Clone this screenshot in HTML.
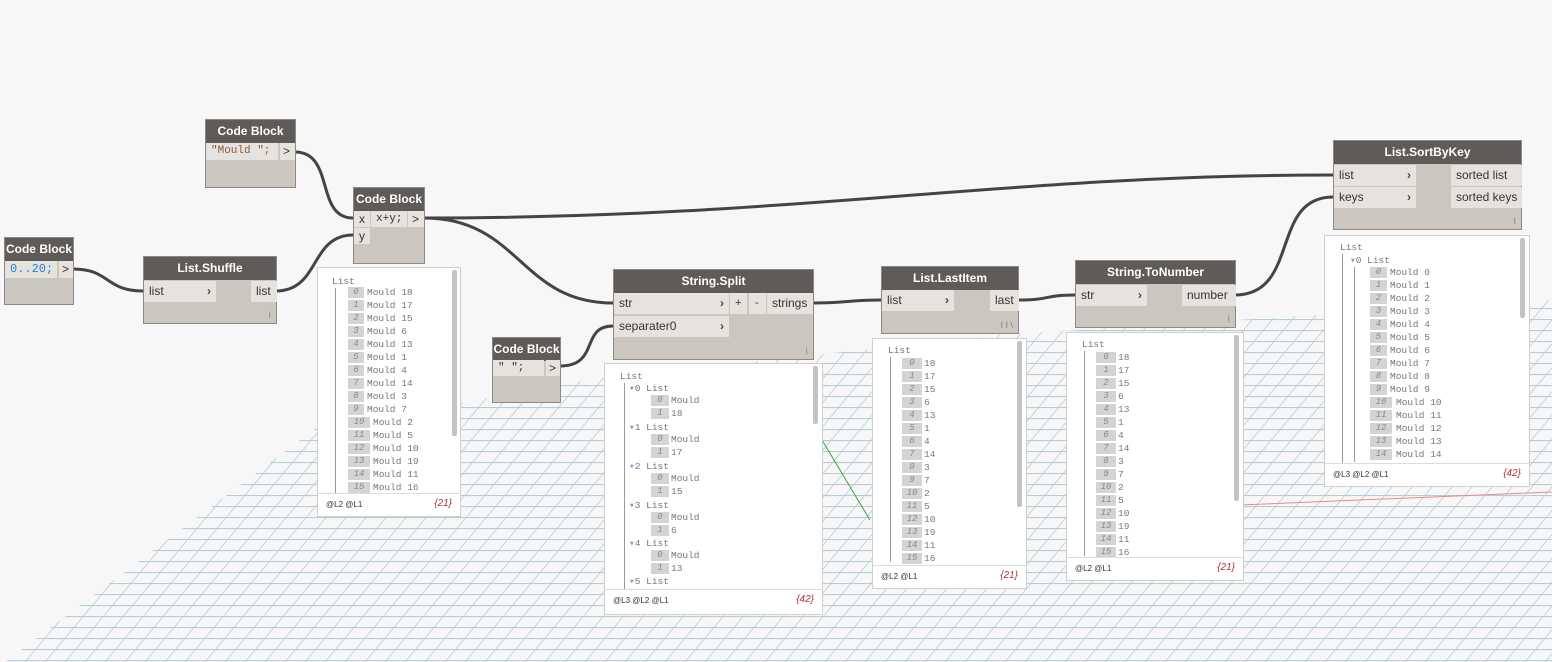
<!DOCTYPE html>
<html><head><meta charset="utf-8"><style>
body{margin:0;width:1552px;height:662px;overflow:hidden;background:#f7f7f7;position:relative;font-family:"Liberation Sans",sans-serif}
.n{position:absolute;background:#cbc7c0;border:1px solid #8c8882;box-sizing:border-box}
.h{background:#5e5b58;color:#fff;font-weight:bold;font-size:12px;text-align:center;height:23px;line-height:23px}
.p{position:absolute;background:#e6e3de;font-size:12px;color:#333;line-height:21px;padding-left:5px;box-sizing:border-box}
.ar{position:absolute;font-size:12px;font-weight:bold;color:#444}
.w{position:absolute;background:#fff;border:1px solid #cfcfcf;box-sizing:border-box;overflow:hidden}
.w .ft{position:absolute;left:0;right:0;bottom:0;height:22px;border-top:1px solid #ddd;font-size:8px;color:#333}
.w .ft b{position:absolute;left:8px;top:6px;font-weight:normal}
.w .ft i{position:absolute;right:8px;top:4px;color:#a33;font-size:10px}
.sb{position:absolute;width:5px;background:#c4c4c4;border-radius:2px}
.t{position:absolute;font-family:"Liberation Mono",monospace;font-size:9.5px;color:#777;white-space:pre;line-height:11px}
.ix{position:absolute;background:#d4d4d4;color:#888;font-family:"Liberation Mono",monospace;font-size:9px;font-style:italic;text-align:center;box-sizing:border-box;height:11px;line-height:11px}
.vl{position:absolute;width:1px;background:#999}
.res{position:absolute;font-size:9px;color:#888}
</style></head><body>
<svg width="1552" height="662" style="position:absolute;left:0;top:0">
<defs><pattern id="g" width="20" height="11" patternUnits="userSpaceOnUse" patternTransform="skewX(-40)"><path d="M0 0.5H20M0.5 0V11" stroke="#b3cad9" stroke-width="1" fill="none"/></pattern></defs>
<polygon points="5,662 316,428 600,378 1000,335 1552,300 1552,662" fill="url(#g)"/>
<path d="M1240 505 L1552 492" stroke="#e88" stroke-width="1"/>
<path d="M822 440 L870 520" stroke="#3a3" stroke-width="1"/>
<g stroke="#444" stroke-width="3" fill="none">
<path d="M73 269 C110 269,105 291,143 291"/>
<path d="M276 291 C320 291,310 235,353 235"/>
<path d="M295 152 C335 152,315 218,353 218"/>
<path d="M424 218 C800 218,1000 175,1333 175"/>
<path d="M424 218 C520 218,520 303,613 303"/>
<path d="M560 366 C600 366,580 326,613 326"/>
<path d="M813 303 C850 303,845 300,881 300"/>
<path d="M1018 300 C1050 300,1045 295,1075 295"/>
<path d="M1235 295 C1300 295,1270 197,1333 197"/>
</g></svg>

<div class="n" style="left:4px;top:237px;width:70px;height:68px"><div class="h">Code Block</div>
<div class="p" style="left:0;top:23px;width:52px;height:17px;line-height:17px;font-family:'Liberation Mono',monospace;color:#2a7fd4">0..20;</div>
<div class="p" style="left:54px;top:23px;width:14px;height:17px;line-height:17px;padding-left:3px">&gt;</div></div>
<div class="n" style="left:143px;top:256px;width:134px;height:68px"><div class="h">List.Shuffle</div>
<div class="p" style="left:0;top:24px;width:72px;height:21px">list</div><div class="ar" style="left:63px;top:27px">›</div>
<div class="p" style="left:107px;top:24px;width:26px;height:21px">list</div><div class="res" style="right:5px;bottom:3px">I</div></div>
<div class="n" style="left:205px;top:119px;width:91px;height:69px"><div class="h">Code Block</div>
<div class="p" style="left:0;top:23px;width:72px;height:17px;line-height:17px;font-family:'Liberation Mono',monospace;color:#8a5a3c;font-size:11px">"Mould ";</div>
<div class="p" style="left:74px;top:23px;width:15px;height:17px;line-height:17px;padding-left:3px">&gt;</div></div>
<div class="n" style="left:353px;top:187px;width:72px;height:77px"><div class="h">Code Block</div>
<div class="p" style="left:0;top:23px;width:16px;height:16px;line-height:16px">x</div>
<div class="p" style="left:0;top:40px;width:16px;height:16px;line-height:16px">y</div>
<div class="p" style="left:17px;top:23px;width:36px;height:16px;line-height:16px;font-family:'Liberation Mono',monospace;font-size:11px">x+y;</div>
<div class="p" style="left:54px;top:23px;width:16px;height:16px;line-height:16px;padding-left:4px">&gt;</div></div>
<div class="n" style="left:492px;top:337px;width:69px;height:66px"><div class="h">Code Block</div>
<div class="p" style="left:0;top:22px;width:51px;height:16px;line-height:16px;font-family:'Liberation Mono',monospace;font-size:11px">" ";</div>
<div class="p" style="left:53px;top:22px;width:14px;height:16px;line-height:16px;padding-left:3px">&gt;</div></div>
<div class="n" style="left:613px;top:269px;width:201px;height:91px"><div class="h">String.Split</div>
<div class="p" style="left:0;top:23px;width:115px;height:21px">str</div><div class="ar" style="left:106px;top:26px">›</div>
<div class="p" style="left:0;top:46px;width:115px;height:21px">separater0</div><div class="ar" style="left:106px;top:49px">›</div>
<div class="p" style="left:116px;top:23px;width:17px;height:21px;padding-left:5px;font-size:11px">+</div>
<div class="p" style="left:135px;top:23px;width:17px;height:21px;padding-left:6px;font-size:11px">-</div>
<div class="p" style="left:153px;top:23px;width:46px;height:21px">strings</div><div class="res" style="right:5px;bottom:3px">I</div></div>
<div class="n" style="left:881px;top:266px;width:138px;height:68px"><div class="h">List.LastItem</div>
<div class="p" style="left:0;top:23px;width:72px;height:21px">list</div><div class="ar" style="left:63px;top:26px">›</div>
<div class="p" style="left:108px;top:23px;width:29px;height:21px">last</div><div class="res" style="right:5px;bottom:3px">I I \</div></div>
<div class="n" style="left:1075px;top:260px;width:161px;height:68px"><div class="h">String.ToNumber</div>
<div class="p" style="left:0;top:24px;width:71px;height:21px">str</div><div class="ar" style="left:62px;top:27px">›</div>
<div class="p" style="left:106px;top:24px;width:54px;height:21px">number</div><div class="res" style="right:5px;bottom:3px">I</div></div>
<div class="n" style="left:1333px;top:140px;width:189px;height:90px"><div class="h">List.SortByKey</div>
<div class="p" style="left:0;top:24px;width:82px;height:21px">list</div><div class="ar" style="left:73px;top:27px">›</div>
<div class="p" style="left:0;top:46px;width:82px;height:21px">keys</div><div class="ar" style="left:73px;top:49px">›</div>
<div class="p" style="left:117px;top:24px;width:71px;height:21px">sorted list</div>
<div class="p" style="left:117px;top:46px;width:71px;height:21px">sorted keys</div><div class="res" style="right:5px;bottom:3px">I</div></div>

<div class="w" style="left:317px;top:267px;width:144px;height:250px">
<div class="sb" style="left:134px;top:2px;height:166px"></div><div class="t" style="left:14px;top:8px">List</div><div class="vl" style="left:17px;top:20px;height:210px"></div>
<div class="ix" style="left:30px;top:19px;width:16px">0</div><div class="t" style="left:49px;top:19px">Mould 18</div>
<div class="ix" style="left:30px;top:32px;width:16px">1</div><div class="t" style="left:49px;top:32px">Mould 17</div>
<div class="ix" style="left:30px;top:45px;width:16px">2</div><div class="t" style="left:49px;top:45px">Mould 15</div>
<div class="ix" style="left:30px;top:58px;width:16px">3</div><div class="t" style="left:49px;top:58px">Mould 6</div>
<div class="ix" style="left:30px;top:71px;width:16px">4</div><div class="t" style="left:49px;top:71px">Mould 13</div>
<div class="ix" style="left:30px;top:84px;width:16px">5</div><div class="t" style="left:49px;top:84px">Mould 1</div>
<div class="ix" style="left:30px;top:97px;width:16px">6</div><div class="t" style="left:49px;top:97px">Mould 4</div>
<div class="ix" style="left:30px;top:110px;width:16px">7</div><div class="t" style="left:49px;top:110px">Mould 14</div>
<div class="ix" style="left:30px;top:123px;width:16px">8</div><div class="t" style="left:49px;top:123px">Mould 3</div>
<div class="ix" style="left:30px;top:136px;width:16px">9</div><div class="t" style="left:49px;top:136px">Mould 7</div>
<div class="ix" style="left:30px;top:149px;width:22px">10</div><div class="t" style="left:55px;top:149px">Mould 2</div>
<div class="ix" style="left:30px;top:162px;width:22px">11</div><div class="t" style="left:55px;top:162px">Mould 5</div>
<div class="ix" style="left:30px;top:175px;width:22px">12</div><div class="t" style="left:55px;top:175px">Mould 10</div>
<div class="ix" style="left:30px;top:188px;width:22px">13</div><div class="t" style="left:55px;top:188px">Mould 19</div>
<div class="ix" style="left:30px;top:201px;width:22px">14</div><div class="t" style="left:55px;top:201px">Mould 11</div>
<div class="ix" style="left:30px;top:214px;width:22px">15</div><div class="t" style="left:55px;top:214px">Mould 16</div>
<div class="ft" style="background:#fff"><b>@L2 @L1</b><i>{21}</i></div></div>

<div class="w" style="left:604px;top:363px;width:219px;height:252px">
<div class="sb" style="left:208px;top:2px;height:58px"></div><div class="t" style="left:15px;top:7px">List</div><div class="vl" style="left:19px;top:19px;height:210px"></div>
<div class="t" style="left:24px;top:19px"><span style="color:#6aa0d0">▾</span>0 List</div><div class="ix" style="left:46px;top:31px;width:18px">0</div><div class="t" style="left:66px;top:31px">Mould</div><div class="ix" style="left:46px;top:44px;width:18px">1</div><div class="t" style="left:66px;top:44px">18</div>
<div class="t" style="left:24px;top:58px"><span style="color:#6aa0d0">▾</span>1 List</div><div class="ix" style="left:46px;top:70px;width:18px">0</div><div class="t" style="left:66px;top:70px">Mould</div><div class="ix" style="left:46px;top:83px;width:18px">1</div><div class="t" style="left:66px;top:83px">17</div>
<div class="t" style="left:24px;top:97px"><span style="color:#6aa0d0">▾</span>2 List</div><div class="ix" style="left:46px;top:109px;width:18px">0</div><div class="t" style="left:66px;top:109px">Mould</div><div class="ix" style="left:46px;top:122px;width:18px">1</div><div class="t" style="left:66px;top:122px">15</div>
<div class="t" style="left:24px;top:136px"><span style="color:#6aa0d0">▾</span>3 List</div><div class="ix" style="left:46px;top:148px;width:18px">0</div><div class="t" style="left:66px;top:148px">Mould</div><div class="ix" style="left:46px;top:161px;width:18px">1</div><div class="t" style="left:66px;top:161px">6</div>
<div class="t" style="left:24px;top:174px"><span style="color:#6aa0d0">▾</span>4 List</div><div class="ix" style="left:46px;top:186px;width:18px">0</div><div class="t" style="left:66px;top:186px">Mould</div><div class="ix" style="left:46px;top:199px;width:18px">1</div><div class="t" style="left:66px;top:199px">13</div>
<div class="t" style="left:24px;top:212px"><span style="color:#6aa0d0">▾</span>5 List</div>
<div class="ft" style="background:#fff;height:24px"><b>@L3 @L2 @L1</b><i>{42}</i></div></div>

<div class="w" style="left:872px;top:338px;width:155px;height:251px">
<div class="sb" style="left:144px;top:2px;height:166px"></div><div class="t" style="left:15px;top:6px">List</div><div class="vl" style="left:17px;top:18px;height:205px"></div>
<div class="ix" style="left:29px;top:19px;width:20px">0</div><div class="t" style="left:51px;top:19px">18</div>
<div class="ix" style="left:29px;top:32px;width:20px">1</div><div class="t" style="left:51px;top:32px">17</div>
<div class="ix" style="left:29px;top:45px;width:20px">2</div><div class="t" style="left:51px;top:45px">15</div>
<div class="ix" style="left:29px;top:58px;width:20px">3</div><div class="t" style="left:51px;top:58px">6</div>
<div class="ix" style="left:29px;top:71px;width:20px">4</div><div class="t" style="left:51px;top:71px">13</div>
<div class="ix" style="left:29px;top:84px;width:20px">5</div><div class="t" style="left:51px;top:84px">1</div>
<div class="ix" style="left:29px;top:97px;width:20px">6</div><div class="t" style="left:51px;top:97px">4</div>
<div class="ix" style="left:29px;top:110px;width:20px">7</div><div class="t" style="left:51px;top:110px">14</div>
<div class="ix" style="left:29px;top:123px;width:20px">8</div><div class="t" style="left:51px;top:123px">3</div>
<div class="ix" style="left:29px;top:136px;width:20px">9</div><div class="t" style="left:51px;top:136px">7</div>
<div class="ix" style="left:29px;top:149px;width:20px">10</div><div class="t" style="left:51px;top:149px">2</div>
<div class="ix" style="left:29px;top:162px;width:20px">11</div><div class="t" style="left:51px;top:162px">5</div>
<div class="ix" style="left:29px;top:175px;width:20px">12</div><div class="t" style="left:51px;top:175px">10</div>
<div class="ix" style="left:29px;top:188px;width:20px">13</div><div class="t" style="left:51px;top:188px">19</div>
<div class="ix" style="left:29px;top:201px;width:20px">14</div><div class="t" style="left:51px;top:201px">11</div>
<div class="ix" style="left:29px;top:214px;width:20px">15</div><div class="t" style="left:51px;top:214px">16</div>
<div class="ft" style="background:#fff"><b>@L2 @L1</b><i>{21}</i></div></div>

<div class="w" style="left:1066px;top:332px;width:178px;height:249px">
<div class="sb" style="left:167px;top:2px;height:166px"></div><div class="t" style="left:15px;top:6px">List</div><div class="vl" style="left:17px;top:18px;height:205px"></div>
<div class="ix" style="left:29px;top:19px;width:20px">0</div><div class="t" style="left:51px;top:19px">18</div>
<div class="ix" style="left:29px;top:32px;width:20px">1</div><div class="t" style="left:51px;top:32px">17</div>
<div class="ix" style="left:29px;top:45px;width:20px">2</div><div class="t" style="left:51px;top:45px">15</div>
<div class="ix" style="left:29px;top:58px;width:20px">3</div><div class="t" style="left:51px;top:58px">6</div>
<div class="ix" style="left:29px;top:71px;width:20px">4</div><div class="t" style="left:51px;top:71px">13</div>
<div class="ix" style="left:29px;top:84px;width:20px">5</div><div class="t" style="left:51px;top:84px">1</div>
<div class="ix" style="left:29px;top:97px;width:20px">6</div><div class="t" style="left:51px;top:97px">4</div>
<div class="ix" style="left:29px;top:110px;width:20px">7</div><div class="t" style="left:51px;top:110px">14</div>
<div class="ix" style="left:29px;top:123px;width:20px">8</div><div class="t" style="left:51px;top:123px">3</div>
<div class="ix" style="left:29px;top:136px;width:20px">9</div><div class="t" style="left:51px;top:136px">7</div>
<div class="ix" style="left:29px;top:149px;width:20px">10</div><div class="t" style="left:51px;top:149px">2</div>
<div class="ix" style="left:29px;top:162px;width:20px">11</div><div class="t" style="left:51px;top:162px">5</div>
<div class="ix" style="left:29px;top:175px;width:20px">12</div><div class="t" style="left:51px;top:175px">10</div>
<div class="ix" style="left:29px;top:188px;width:20px">13</div><div class="t" style="left:51px;top:188px">19</div>
<div class="ix" style="left:29px;top:201px;width:20px">14</div><div class="t" style="left:51px;top:201px">11</div>
<div class="ix" style="left:29px;top:214px;width:20px">15</div><div class="t" style="left:51px;top:214px">16</div>
<div class="ft" style="background:#fff"><b>@L2 @L1</b><i>{21}</i></div></div>

<div class="w" style="left:1324px;top:235px;width:206px;height:252px">
<div class="sb" style="left:195px;top:2px;height:80px"></div><div class="t" style="left:15px;top:6px">List</div><div class="vl" style="left:17px;top:18px;height:210px"></div>
<div class="t" style="left:25px;top:19px"><span style="color:#6aa0d0">▾</span>0 List</div><div class="vl" style="left:29px;top:31px;height:195px"></div>
<div class="ix" style="left:45px;top:31px;width:17px">0</div><div class="t" style="left:65px;top:31px">Mould 0</div>
<div class="ix" style="left:45px;top:44px;width:17px">1</div><div class="t" style="left:65px;top:44px">Mould 1</div>
<div class="ix" style="left:45px;top:57px;width:17px">2</div><div class="t" style="left:65px;top:57px">Mould 2</div>
<div class="ix" style="left:45px;top:70px;width:17px">3</div><div class="t" style="left:65px;top:70px">Mould 3</div>
<div class="ix" style="left:45px;top:83px;width:17px">4</div><div class="t" style="left:65px;top:83px">Mould 4</div>
<div class="ix" style="left:45px;top:96px;width:17px">5</div><div class="t" style="left:65px;top:96px">Mould 5</div>
<div class="ix" style="left:45px;top:109px;width:17px">6</div><div class="t" style="left:65px;top:109px">Mould 6</div>
<div class="ix" style="left:45px;top:122px;width:17px">7</div><div class="t" style="left:65px;top:122px">Mould 7</div>
<div class="ix" style="left:45px;top:135px;width:17px">8</div><div class="t" style="left:65px;top:135px">Mould 8</div>
<div class="ix" style="left:45px;top:148px;width:17px">9</div><div class="t" style="left:65px;top:148px">Mould 9</div>
<div class="ix" style="left:45px;top:161px;width:22px">10</div><div class="t" style="left:71px;top:161px">Mould 10</div>
<div class="ix" style="left:45px;top:174px;width:22px">11</div><div class="t" style="left:71px;top:174px">Mould 11</div>
<div class="ix" style="left:45px;top:187px;width:22px">12</div><div class="t" style="left:71px;top:187px">Mould 12</div>
<div class="ix" style="left:45px;top:200px;width:22px">13</div><div class="t" style="left:71px;top:200px">Mould 13</div>
<div class="ix" style="left:45px;top:213px;width:22px">14</div><div class="t" style="left:71px;top:213px">Mould 14</div>
<div class="ft" style="background:#fff"><b>@L3 @L2 @L1</b><i>{42}</i></div></div>
</body></html>
